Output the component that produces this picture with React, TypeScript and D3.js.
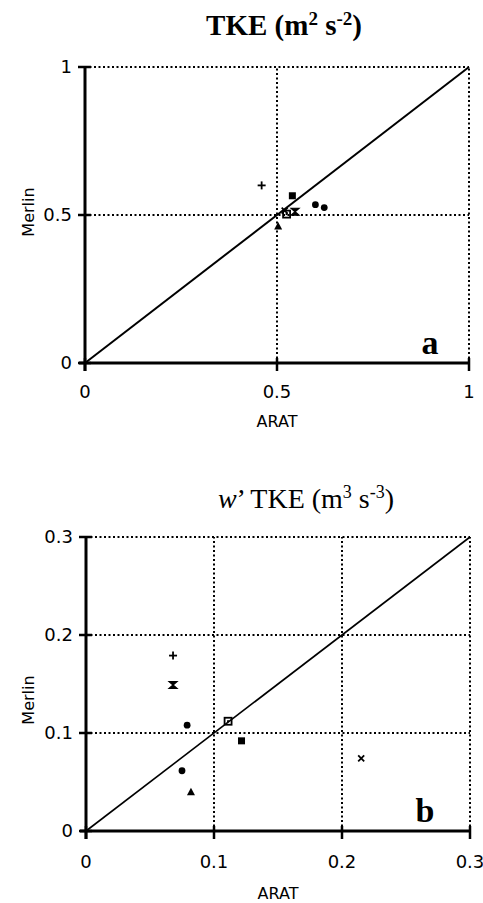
import React from "react";
import * as d3 from "d3";

const markers = ["plus", "hourglass", "circle", "openSquare", "filledSquare", "circle2", "triangle", "cross"];
const aratA = [0.46, 0.547, 0.6, 0.525, 0.54, 0.623, 0.503, 0.52];
const merlinA = [0.6, 0.511, 0.535, 0.503, 0.565, 0.525, 0.463, 0.515];
const aratB = [0.068, 0.068, 0.079, 0.111, 0.1215, 0.075, 0.082, 0.215];
const merlinB = [0.179, 0.149, 0.108, 0.112, 0.092, 0.0615, 0.04, 0.074];
const ticksA = [0, 0.5, 1];
const tickLabelsA = ["0", "0.5", "1"];
const ticksB = [0, 0.1, 0.2, 0.3];
const tickLabelsB = ["0", "0.1", "0.2", "0.3"];

const sans = "'DejaVu Sans', sans-serif";
const serif = "'Liberation Serif', 'Times New Roman', serif";

function Marker({ type, x, y }: { type: string; x: number; y: number }) {
  const t = `translate(${x},${y})`;
  switch (type) {
    case "plus":
      return (
        <g transform={t} stroke="#000" strokeWidth={1.8}>
          <line x1={-4} x2={4} y1={0} y2={0} />
          <line x1={0} x2={0} y1={-4} y2={4} />
        </g>
      );
    case "cross":
      return (
        <g transform={t} stroke="#000" strokeWidth={1.8}>
          <line x1={-3} x2={3} y1={-3} y2={3} />
          <line x1={-3} x2={3} y1={3} y2={-3} />
        </g>
      );
    case "hourglass":
      return <path transform={t} d="M-4,-3.5H4L-4,3.5H4Z" fill="#000" stroke="#000" strokeWidth={1.2} />;
    case "circle":
    case "circle2":
      return <circle cx={x} cy={y} r={3.4} fill="#000" />;
    case "filledSquare":
      return <rect x={x - 3.5} y={y - 3.5} width={7} height={7} fill="#000" />;
    case "openSquare":
      return (
        <g>
          <rect x={x - 3.5} y={y - 3.5} width={7} height={7} fill="none" stroke="#000" strokeWidth={1.8} />
          <rect x={x - 1} y={y - 1} width={2} height={2} fill="#000" />
        </g>
      );
    case "triangle":
      return <path transform={t} d="M0,-4L4,3.5H-4Z" fill="#000" />;
    default:
      return null;
  }
}

function Panel({
  xs, ys, ticks, labels, xr, yr, max, title, letter, letterPos, merlinY, aratY, tickLabelY, diagW,
}: any) {
  const x = d3.scaleLinear().domain([0, max]).range(xr);
  const y = d3.scaleLinear().domain([0, max]).range(yr);
  const x0 = x(0), y0 = y(0), x1 = x(max), y1 = y(max);
  return (
    <g>
      {title}
      {ticks.filter((v: number) => v > 0).map((v: number) => (
        <g key={"g" + v}>
          <line x1={x(v)} x2={x(v)} y1={y0} y2={y1} stroke="#000" strokeWidth={2} strokeDasharray="2,2.5" />
          <line x1={x0} x2={x1} y1={y(v)} y2={y(v)} stroke="#000" strokeWidth={2} strokeDasharray="2,2.5" />
        </g>
      ))}
      <line x1={x0} y1={y0} x2={x1} y2={y1} stroke="#000" strokeWidth={diagW} />
      <line x1={x0} x2={x0} y1={y0 + 8} y2={y1} stroke="#000" strokeWidth={3} />
      <line x1={x0 - 6} x2={x1} y1={y0} y2={y0} stroke="#000" strokeWidth={3} />
      {ticks.map((v: number, i: number) => (
        <g key={"t" + v}>
          <line x1={x0 - 7} x2={x0 + 6} y1={y(v)} y2={y(v)} stroke="#000" strokeWidth={2.5} />
          <line x1={x(v)} x2={x(v)} y1={y0 - 5} y2={y0 + 8} stroke="#000" strokeWidth={2.5} />
          <text x={x0 - 13} y={y(v)} dy="0.36em" textAnchor="end" fontFamily={sans} fontSize={18}>{labels[i]}</text>
          <text x={x(v)} y={tickLabelY} dy="0.36em" textAnchor="middle" fontFamily={sans} fontSize={18}>{labels[i]}</text>
        </g>
      ))}
      {xs.map((v: number, i: number) => (
        <Marker key={"m" + i} type={markers[i]} x={x(v)} y={y(ys[i])} />
      ))}
      <text x={letterPos[0]} y={letterPos[1]} fontFamily={serif} fontWeight="bold" fontSize={34} textAnchor="middle">{letter}</text>
      <text transform={`translate(28,${merlinY}) rotate(-90)`} textAnchor="middle" dy="0.36em" fontFamily={sans} fontSize={16}>Merlin</text>
      <text x={(x0 + x1) / 2} y={aratY} textAnchor="middle" dy="0.36em" fontFamily={sans} fontSize={16}>ARAT</text>
    </g>
  );
}

export default function App() {
  return (
    <svg width={483} height={903} style={{ position: "absolute", left: 0, top: 0, background: "#fff" }}>
      <Panel
        xs={aratA} ys={merlinA} ticks={ticksA} labels={tickLabelsA} xr={[85, 469]} yr={[363, 67]} max={1}
        letter="a" letterPos={[430, 354]} merlinY={212} aratY={421} tickLabelY={392} diagW={2}
        title={
          <text x={284} y={35} textAnchor="middle" fontFamily={serif} fontWeight="bold" fontSize={29}>
            TKE (m<tspan dy={-10} fontSize={19}>2</tspan><tspan dy={10}> s</tspan><tspan dy={-10} fontSize={19}>-2</tspan><tspan dy={10}>)</tspan>
          </text>
        }
      />
      <Panel
        xs={aratB} ys={merlinB} ticks={ticksB} labels={tickLabelsB} xr={[86, 470]} yr={[831, 537]} max={0.3}
        letter="b" letterPos={[425, 822]} merlinY={700} aratY={893} tickLabelY={862} diagW={1.6}
        title={
          <text x={306} y={508} textAnchor="middle" fontFamily={serif} fontSize={28}>
            <tspan fontStyle="italic">w</tspan>’ TKE (m<tspan dy={-10} fontSize={18}>3</tspan><tspan dy={10}> s</tspan><tspan dy={-10} fontSize={18}>-3</tspan><tspan dy={10}>)</tspan>
          </text>
        }
      />
    </svg>
  );
}
